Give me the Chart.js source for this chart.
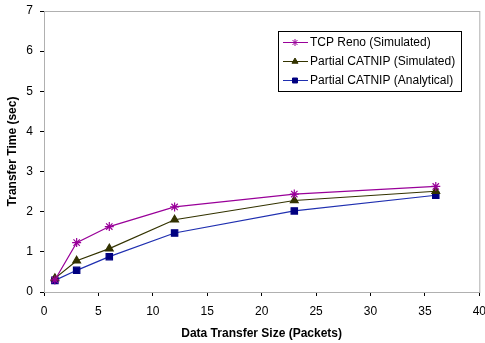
<!DOCTYPE html>
<html>
<head>
<meta charset="utf-8">
<script src="https://cdn.jsdelivr.net/npm/chart.js@4.4.0/dist/chart.umd.min.js"></script>
<style>
  html, body { margin: 0; padding: 0; background: #fff; }
  #wrap { position: relative; width: 485px; height: 343px; }
</style>
</head>
<body>
<div id="wrap"><canvas id="chart" width="485" height="343"></canvas></div>
<script>
// --- data ---
const sizes = [1, 3, 6, 12, 23, 36];
const renoSim = [0.30, 1.23, 1.63, 2.12, 2.44, 2.63];
const catnipSim = [0.34, 0.78, 1.08, 1.80, 2.28, 2.51];
const catnipAna = [0.29, 0.54, 0.88, 1.47, 2.02, 2.41];
const seriesNames = ['TCP Reno (Simulated)', 'Partial CATNIP (Simulated)', 'Partial CATNIP (Analytical)'];

const FONT = 'Liberation Sans, Arial, sans-serif';

const pts = ys => sizes.map((x, i) => ({ x, y: ys[i] }));

// gray frame behind the plot (top/right edges)
const frame = {
    id: 'frame',
    beforeDatasetsDraw(chart) {
        const { ctx, chartArea: a } = chart;
        ctx.save();
        ctx.strokeStyle = '#b0b0b0';
        ctx.lineWidth = 1;
        ctx.strokeRect(a.left + 0.5, a.top + 0.5, a.right - a.left, a.bottom - a.top);
        ctx.restore();
    }
};

// legend box inside the plot
const boxLegend = {
    id: 'boxLegend',
    afterDraw(chart) {
        const { ctx } = chart;
        const x0 = 278, y0 = 31, w = 183, h = 60;
        ctx.save();
        ctx.fillStyle = '#fff';
        ctx.fillRect(x0, y0, w, h);
        ctx.strokeStyle = '#000';
        ctx.lineWidth = 1;
        ctx.strokeRect(x0 + 0.5, y0 + 0.5, w, h);
        ctx.font = '12px ' + FONT;
        ctx.textBaseline = 'middle';
        chart.data.datasets.forEach((ds, i) => {
            const y = y0 + 11 + i * 19;
            ctx.strokeStyle = ds.borderColor;
            ctx.lineWidth = 1;
            ctx.beginPath();
            ctx.moveTo(x0 + 5, y + 0.5);
            ctx.lineTo(x0 + 30, y + 0.5);
            ctx.stroke();
            ctx.fillStyle = ds.pointBackgroundColor;
            ctx.strokeStyle = ds.pointBorderColor;
            Chart.helpers.drawPoint(ctx, {
                pointStyle: ds.pointStyle, radius: 3.5, rotation: 0, borderWidth: 1
            }, x0 + 17, y + 0.5);
            ctx.fillStyle = '#000';
            ctx.fillText(ds.label, x0 + 32, y + 1);
        });
        ctx.restore();
    }
};

new Chart(document.getElementById('chart'), {
    type: 'line',
    data: {
        datasets: [
            { label: seriesNames[0], data: pts(renoSim), borderColor: '#990099', borderWidth: 1.2,
              pointStyle: 'star', pointRadius: 4.5, pointBorderColor: '#990099', pointBackgroundColor: '#990099', pointBorderWidth: 1.2 },
            { label: seriesNames[1], data: pts(catnipSim), borderColor: '#333300', borderWidth: 1.2,
              pointStyle: 'triangle', pointRadius: 4.5, pointBorderColor: '#333300', pointBackgroundColor: '#333300' },
            { label: seriesNames[2], data: pts(catnipAna), borderColor: '#1f2fb0', borderWidth: 1.2,
              pointStyle: 'rect', pointRadius: 4.5, pointBorderColor: '#000080', pointBackgroundColor: '#000080' }
        ]
    },
    options: {
        responsive: false,
        animation: false,
        layout: { padding: { left: 0, right: 2, top: 11, bottom: 0 } },
        plugins: { legend: { display: false }, tooltip: { enabled: false } },
        scales: {
            x: {
                type: 'linear', min: 0, max: 40,
                ticks: { stepSize: 5, color: '#000', font: { family: FONT, size: 12 }, padding: 8 },
                grid: { drawOnChartArea: false, color: '#000', tickLength: 4 },
                border: { color: '#000' },
                title: { display: true, text: 'Data Transfer Size (Packets)', color: '#000',
                         font: { family: FONT, size: 12, weight: 'bold' }, padding: { top: 12, bottom: 2 } },
                afterFit(s) { s.height = 51; s.paddingRight = 0; }
            },
            y: {
                min: 0, max: 7,
                ticks: { stepSize: 1, color: '#000', font: { family: FONT, size: 12 }, padding: 7 },
                grid: { drawOnChartArea: false, color: '#000', tickLength: 4 },
                border: { color: '#000' },
                title: { display: true, text: 'Transfer Time (sec)', color: '#000',
                         font: { family: FONT, size: 12, weight: 'bold' }, padding: { top: 5, bottom: 2 } },
                afterFit(s) { s.width = 44; s.paddingTop = 0; }
            }
        }
    },
    plugins: [frame, boxLegend]
});
</script>
</body>
</html>
